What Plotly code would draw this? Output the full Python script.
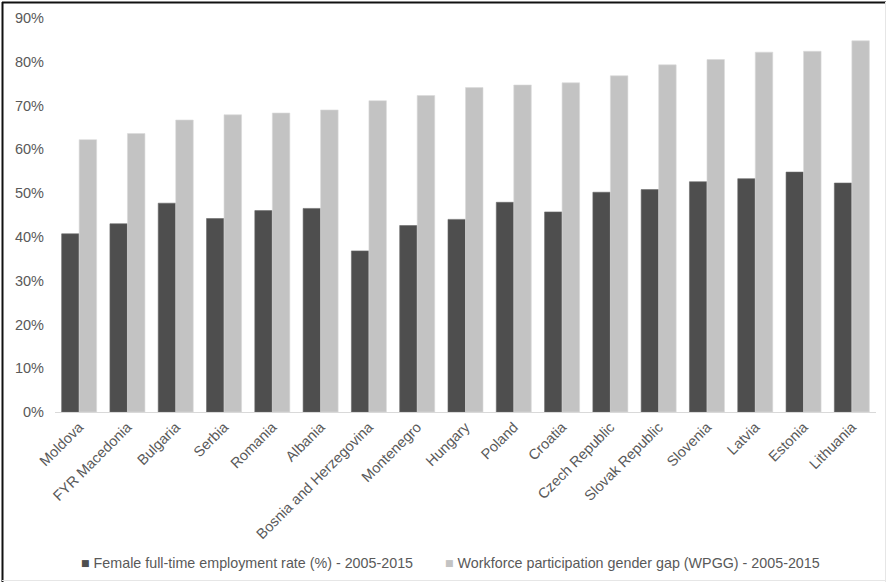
import plotly.graph_objects as go

# Countries ordered by workforce participation gender gap
countries = [
    "Moldova", "FYR Macedonia", "Bulgaria", "Serbia", "Romania", "Albania",
    "Bosnia and Herzegovina", "Montenegro", "Hungary", "Poland", "Croatia",
    "Czech Republic", "Slovak Republic", "Slovenia", "Latvia", "Estonia",
    "Lithuania",
]

# Female full-time employment rate, 2005-2015 (share)
female_ft_rate = [
    0.407, 0.430, 0.477, 0.442, 0.460, 0.465, 0.368, 0.426, 0.440, 0.479,
    0.457, 0.502, 0.508, 0.526, 0.533, 0.548, 0.523,
]

# Workforce participation gender gap, 2005-2015 (share)
wpgg = [
    0.622, 0.636, 0.667, 0.679, 0.683, 0.690, 0.711, 0.723, 0.741, 0.747,
    0.752, 0.768, 0.793, 0.805, 0.822, 0.824, 0.848,
]

series_names = [
    "Female full-time employment rate (%) - 2005-2015",
    "Workforce participation gender gap (WPGG) - 2005-2015",
]
series_colors = ["#4e4e4e", "#c3c3c3"]
series_edges = ["#6a6a6a", "#dadada"]

y_ticks = [0, 0.1, 0.2, 0.3, 0.4, 0.5, 0.6, 0.7, 0.8, 0.9]

FONT = "Liberation Sans, Arial, sans-serif"
TEXT = "#595959"

fig = go.Figure()
for vals, name, col, edge in zip([female_ft_rate, wpgg], series_names,
                                 series_colors, series_edges):
    fig.add_trace(go.Bar(
        x=countries, y=vals, name=name, showlegend=False,
        marker=dict(color=col, line=dict(color=edge, width=0.6)),
    ))

W, H = 886, 582
L, R, T, B = 55, 10, 18, 170
pw, ph = W - L - R, H - T - B

def px_x(p):
    return (p - L) / pw

def px_y(p):
    return (H - B - p) / ph

# Legend row under the chart: a small square key followed by the series name
legend_left = [79, 443]
annotations = [
    dict(
        xref="paper", yref="paper", x=px_x(xl), y=px_y(563),
        xanchor="left", yanchor="middle", showarrow=False,
        text=f'<span style="color:{col}">■</span> {name}',
        font=dict(family=FONT, size=14.3, color=TEXT),
    )
    for xl, name, col in zip(legend_left, series_names, series_colors)
]

fig.update_layout(
    width=W, height=H,
    margin=dict(l=L, r=R, t=T, b=B, autoexpand=False),
    paper_bgcolor="white", plot_bgcolor="white",
    barmode="group", bargap=0.275, bargroupgap=0,
    font=dict(family=FONT, size=14, color=TEXT),
    annotations=annotations,
    xaxis=dict(
        showline=True, linecolor="#d9d9d9", linewidth=1,
        showgrid=False, ticks="", tickangle=-45,
        tickfont=dict(family=FONT, size=14.5, color=TEXT),
    ),
    yaxis=dict(
        range=[0, 0.9], tickvals=y_ticks, tickformat=".0%",
        showgrid=False, zeroline=False, showline=False, ticks="",
        ticklabelstandoff=10,
        tickfont=dict(family=FONT, size=14.5, color=TEXT),
    ),
    shapes=[
        # outer frame of the figure
        dict(type="line", xref="paper", yref="paper",
             x0=px_x(2), x1=px_x(W), y0=px_y(2.5), y1=px_y(2.5),
             line=dict(color="#111111", width=2)),
        dict(type="line", xref="paper", yref="paper",
             x0=px_x(2.5), x1=px_x(2.5), y0=px_y(2), y1=px_y(H),
             line=dict(color="#111111", width=2)),
        dict(type="line", xref="paper", yref="paper",
             x0=px_x(2), x1=px_x(W), y0=px_y(580.5), y1=px_y(580.5),
             line=dict(color="#e6e6e6", width=1)),
        dict(type="line", xref="paper", yref="paper",
             x0=px_x(885.5), x1=px_x(885.5), y0=px_y(2), y1=px_y(H),
             line=dict(color="#e6e6e6", width=1)),
    ],
)

fig.write_html("out.html")
